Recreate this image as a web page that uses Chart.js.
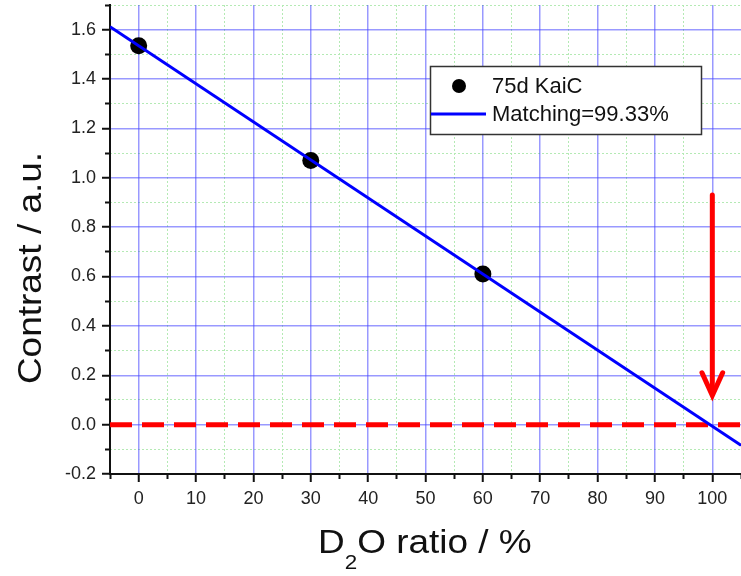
<!DOCTYPE html>
<html>
<head>
<meta charset="utf-8">
<script src="https://cdn.jsdelivr.net/npm/chart.js@4"></script>
<style>
  html, body { margin: 0; padding: 0; background: #fff; }
  #wrap { width: 741px; height: 576px; }
</style>
</head>
<body>
<div id="wrap"><canvas id="chart" width="741" height="576"></canvas></div>
<script>
// ===== DATA =====
const sampleLabel = "75d KaiC";
const sampleX = [0, 30, 60];
const sampleY = [1.535, 1.07, 0.61];

const fitLabel = "Matching=99.33%";
const fitX = [-5, 105];
const fitY = [1.612, -0.084];

const zeroX = [-5, 105];
const zeroY = [0, 0];

const arrowX = [100, 100];
const arrowY = [0.93, 0.13];
const arrowHeadX = [98.2, 100, 101.8];
const arrowHeadY = [0.21, 0.118, 0.21];

const xMajorTicks = [0, 10, 20, 30, 40, 50, 60, 70, 80, 90, 100];
const xMinorTicks = [-5, 5, 15, 25, 35, 45, 55, 65, 75, 85, 95, 105];
const yMajorTicks = [-0.2, 0, 0.2, 0.4, 0.6, 0.8, 1.0, 1.2, 1.4, 1.6];
const yMinorTicks = [-0.1, 0.1, 0.3, 0.5, 0.7, 0.9, 1.1, 1.3, 1.5, 1.7];

const toPoints = (xs, ys) => xs.map((x, i) => ({ x: x, y: ys[i] }));
const setTicks = arr => scale => { scale.ticks = arr.map(v => ({ value: v })); };

// fixed axis sizes, no extra label padding
const sizeX = h => s => { s.height = h; s.paddingLeft = 0; s.paddingRight = 0; };
const sizeY = w => s => { s.width = w; s.paddingTop = 0; s.paddingBottom = 0; };

const FONT = "'Liberation Sans', Arial, sans-serif";

// ===== TITLES + LEGEND (drawn on top) =====
const decorPlugin = {
    id: "decor",
    afterDraw(chart) {
        const ctx = chart.ctx;
        const stretch = 1.12;
        ctx.save();
        ctx.fillStyle = "#111";

        // y title
        ctx.save();
        ctx.translate(41, 268);
        ctx.rotate(-Math.PI / 2);
        ctx.scale(stretch, 1);
        ctx.font = "33px " + FONT;
        ctx.textAlign = "center";
        ctx.textBaseline = "alphabetic";
        ctx.fillText("Contrast / a.u.", 0, 0);
        ctx.restore();

        // x title with subscript
        ctx.save();
        ctx.translate(318, 553);
        ctx.scale(stretch, 1);
        ctx.textAlign = "left";
        ctx.textBaseline = "alphabetic";
        ctx.font = "33px " + FONT;
        ctx.fillText("D", 0, 0);
        let w = ctx.measureText("D").width;
        ctx.font = "20px " + FONT;
        ctx.fillText("2", w, 16);
        w += ctx.measureText("2").width;
        ctx.font = "33px " + FONT;
        ctx.fillText("O ratio / %", w, 0);
        ctx.restore();

        // legend box
        const ds = chart.data.datasets;
        ctx.fillStyle = "#fff";
        ctx.fillRect(430, 66, 272, 69);
        ctx.strokeStyle = "#333";
        ctx.lineWidth = 1.5;
        ctx.strokeRect(430.5, 66.5, 271, 68);

        ctx.fillStyle = "#000";
        ctx.beginPath();
        ctx.arc(459, 86, 7, 0, Math.PI * 2);
        ctx.fill();

        ctx.strokeStyle = "#0000ff";
        ctx.lineWidth = 3;
        ctx.beginPath();
        ctx.moveTo(431, 114);
        ctx.lineTo(486, 114);
        ctx.stroke();

        ctx.fillStyle = "#111";
        ctx.font = "22px " + FONT;
        ctx.textAlign = "left";
        ctx.textBaseline = "middle";
        ctx.fillText(ds[4].label, 492, 87);
        ctx.fillText(ds[2].label, 492, 115);
        ctx.restore();
    }
};

new Chart(document.getElementById("chart"), {
    type: "scatter",
    data: {
        datasets: [
            {
                label: "arrow",
                data: toPoints(arrowX, arrowY),
                showLine: true,
                borderColor: "#ff0000",
                borderWidth: 5,
                borderCapStyle: "round",
                pointRadius: 0
            },
            {
                label: "arrowhead",
                data: toPoints(arrowHeadX, arrowHeadY),
                showLine: true,
                borderColor: "#ff0000",
                borderWidth: 5,
                borderCapStyle: "round",
                borderJoinStyle: "miter",
                pointRadius: 0
            },
            {
                label: fitLabel,
                data: toPoints(fitX, fitY),
                showLine: true,
                borderColor: "#0000ff",
                borderWidth: 3,
                pointRadius: 0
            },
            {
                label: "zero",
                data: toPoints(zeroX, zeroY),
                showLine: true,
                borderColor: "#ff0000",
                borderWidth: 5,
                borderDash: [22, 10],
                pointRadius: 0
            },
            {
                label: sampleLabel,
                data: toPoints(sampleX, sampleY),
                showLine: false,
                backgroundColor: "#000",
                borderColor: "#000",
                pointRadius: 8.5,
                pointBorderWidth: 0
            }
        ]
    },
    options: {
        responsive: false,
        animation: false,
        devicePixelRatio: 1,
        layout: { autoPadding: false, padding: { top: 5, right: 0, left: 0, bottom: 0 } },
        plugins: {
            legend: { display: false },
            tooltip: { enabled: false }
        },
        scales: {
            xMinor: {
                type: "linear",
                position: "bottom",
                weight: 0,
                min: -5, max: 105,
                afterBuildTicks: setTicks(xMinorTicks),
                afterFit: sizeX(0),
                ticks: { display: false },
                border: { display: false, dash: [2, 2] },
                grid: { color: "#b4eab4", lineWidth: 1, tickColor: "#111", tickLength: 5, tickWidth: 2, z: -2 }
            },
            x: {
                type: "linear",
                position: "bottom",
                weight: 1,
                min: -5, max: 105,
                afterBuildTicks: setTicks(xMajorTicks),
                afterFit: sizeX(102),
                ticks: {
                    font: { family: FONT, size: 18 },
                    color: "#222",
                    padding: 6,
                    maxRotation: 0,
                    callback: v => String(v)
                },
                border: { display: true, color: "#111", width: 2 },
                grid: { color: "rgba(70,70,255,0.55)", lineWidth: 1.5, tickColor: "#111", tickLength: 8, tickWidth: 2, z: -1 }
            },
            yMinor: {
                type: "linear",
                position: "left",
                weight: 0,
                min: -0.2, max: 1.7,
                afterBuildTicks: setTicks(yMinorTicks),
                afterFit: sizeY(0),
                ticks: { display: false },
                border: { display: false, dash: [2, 2] },
                grid: { color: "#b4eab4", lineWidth: 1, tickColor: "#111", tickLength: 5, tickWidth: 2, z: -2 }
            },
            y: {
                type: "linear",
                position: "left",
                weight: 1,
                min: -0.2, max: 1.7,
                afterBuildTicks: setTicks(yMajorTicks),
                afterFit: sizeY(110),
                ticks: {
                    font: { family: FONT, size: 18 },
                    color: "#222",
                    padding: 6,
                    callback: v => v.toFixed(1)
                },
                border: { display: true, color: "#111", width: 2 },
                grid: { color: "rgba(70,70,255,0.55)", lineWidth: 1.5, tickColor: "#111", tickLength: 8, tickWidth: 2, z: -1 }
            }
        }
    },
    plugins: [decorPlugin]
});
</script>
</body>
</html>
